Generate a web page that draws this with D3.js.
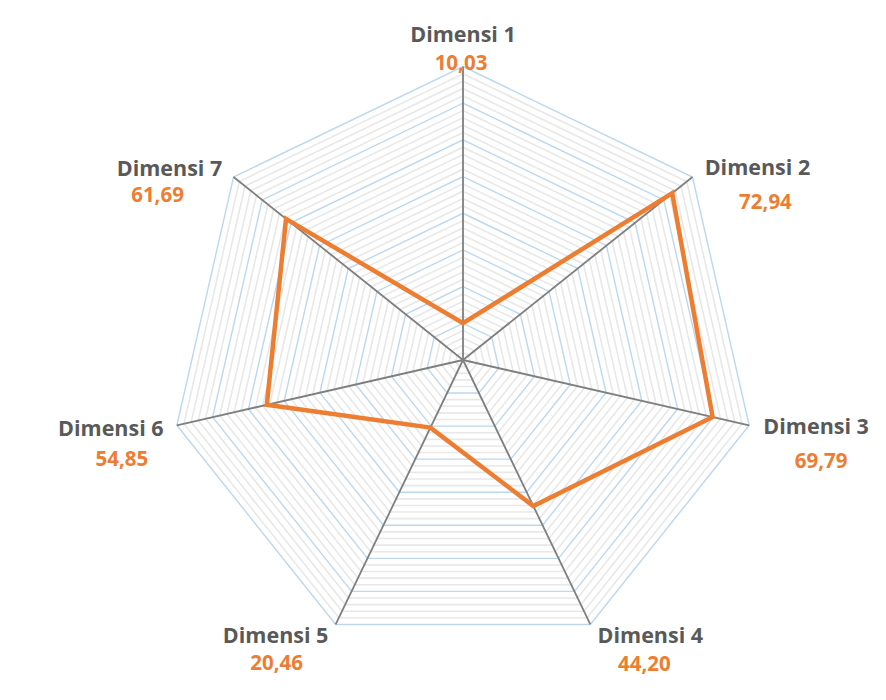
<!DOCTYPE html>
<html>
<head>
<meta charset="utf-8">
<script src="https://cdn.jsdelivr.net/npm/d3@7"></script>
<style>
  body { margin: 0; background: #fff; }
  svg { display: block; }
  text { font-family: "Open Sans", sans-serif; font-weight: 700; }
</style>
</head>
<body>
<div id="radar"></div>
<script>
const categories = ["Dimensi 1", "Dimensi 2", "Dimensi 3", "Dimensi 4", "Dimensi 5", "Dimensi 6", "Dimensi 7"];
const values = [10.03, 72.94, 69.79, 44.20, 20.46, 54.85, 61.69];
const maxValue = 80;
const minorStep = 2;
const majorStep = 10;

// label anchor offsets (from the axis end) for name / value
const nameOffsets = [[0, -25], [65, -2], [67, 9], [60, 19], [-60, 19], [-66, 11], [-64, -1]];
const valueOffsets = [[-2, 3], [73, 32], [72, 43], [54, 47], [-59, 46], [-55, 41], [-76, 25]];

const width = 886, height = 700;
const cx = 463, cy = 360, radius = 293.5;

const svg = d3.select("#radar")
  .append("svg")
    .attr("width", width)
    .attr("height", height)
    .attr("viewBox", [0, 0, width, height]);

const rScale = d3.scaleLinear()
  .domain([0, maxValue])
  .range([0, radius]);

const angle = i => i * 2 * Math.PI / categories.length;
const px = (i, v) => cx + rScale(v) * Math.sin(angle(i));
const py = (i, v) => cy - rScale(v) * Math.cos(angle(i));

const chart = svg.append("g");

// grid rings
const rings = d3.range(minorStep, maxValue + minorStep / 2, minorStep);
const ringPath = v => categories.map((c, i) => [px(i, v), py(i, v)]);

chart.selectAll(".ring-minor")
  .data(rings.filter(v => v % majorStep !== 0))
  .join("polygon")
    .attr("class", "ring-minor")
    .attr("points", v => ringPath(v).join(" "))
    .attr("fill", "none")
    .attr("stroke", "#e8e8e8")
    .attr("stroke-width", 1.6);

chart.selectAll(".ring-major")
  .data(rings.filter(v => v % majorStep === 0))
  .join("polygon")
    .attr("class", "ring-major")
    .attr("points", v => ringPath(v).join(" "))
    .attr("fill", "none")
    .attr("stroke", "#bdd7ee")
    .attr("stroke-width", 1.4);

// spokes
chart.selectAll(".spoke")
  .data(categories)
  .join("line")
    .attr("class", "spoke")
    .attr("x1", cx)
    .attr("y1", cy)
    .attr("x2", (d, i) => px(i, maxValue))
    .attr("y2", (d, i) => py(i, maxValue))
    .attr("stroke", "#7f7f7f")
    .attr("stroke-width", 1.8);

// data line
const line = d3.lineRadial()
  .angle((d, i) => angle(i))
  .radius(d => rScale(d))
  .curve(d3.curveLinearClosed);

chart.append("path")
  .datum(values)
  .attr("transform", `translate(${cx}, ${cy})`)
  .attr("d", line)
  .attr("fill", "none")
  .attr("stroke", "#ed7d31")
  .attr("stroke-width", 4.5)
  .attr("stroke-linejoin", "miter");

// labels
const fmt = v => d3.format(".2f")(v).replace(".", ",");

chart.selectAll(".cat-label")
  .data(categories)
  .join("text")
    .attr("class", "cat-label")
    .attr("x", (d, i) => px(i, maxValue) + nameOffsets[i][0])
    .attr("y", (d, i) => py(i, maxValue) + nameOffsets[i][1])
    .attr("text-anchor", "middle")
    .attr("fill", "#595959")
    .attr("font-size", 21.5)
    .text(d => d);

chart.selectAll(".val-label")
  .data(values)
  .join("text")
    .attr("class", "val-label")
    .attr("x", (d, i) => px(i, maxValue) + valueOffsets[i][0])
    .attr("y", (d, i) => py(i, maxValue) + valueOffsets[i][1])
    .attr("text-anchor", "middle")
    .attr("fill", "#ed7d31")
    .attr("font-size", 20.5)
    .text(d => fmt(d));
</script>
</body>
</html>
